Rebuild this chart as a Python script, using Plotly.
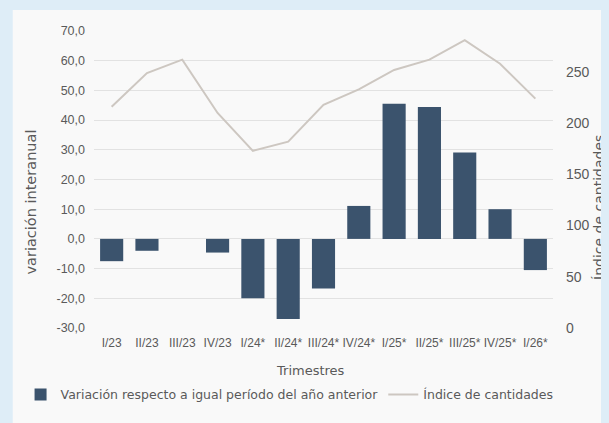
import plotly.graph_objects as go

trimestres = ["I/23", "II/23", "III/23", "IV/23", "I/24*", "II/24*", "III/24*",
              "IV/24*", "I/25*", "II/25*", "III/25*", "IV/25*", "I/26*"]
variacion = [-7.5, -4.0, 0.0, -4.6, -20.0, -27.0, -16.7,
             11.1, 45.5, 44.4, 29.1, 10.0, -10.5]
indice = [216, 249, 262, 210, 173, 182, 218,
          233, 252, 262, 281, 258, 224]

left_ticks = [-30, -20, -10, 0, 10, 20, 30, 40, 50, 60, 70]
left_text = ["-30,0", "-20,0", "-10,0", "0,0", "10,0", "20,0", "30,0",
             "40,0", "50,0", "60,0", "70,0"]
right_ticks = [0, 50, 100, 150, 200, 250]

bar_color = "#3b536d"
line_color = "#cdc7c1"
text_color = "#5a5a5a"
frame_color = "#deedf7"
geo_font = "DejaVu Sans, Noto Sans, sans-serif"
num_font = "Liberation Sans, Arial, sans-serif"

fig = go.Figure()

fig.add_trace(go.Bar(
    x=trimestres,
    y=variacion,
    name="Variación respecto a igual período del año anterior",
    marker=dict(color=bar_color, line=dict(width=0)),
    yaxis="y"
))

fig.add_trace(go.Scatter(
    x=trimestres,
    y=indice,
    name="Índice de cantidades",
    mode="lines",
    line=dict(color=line_color, width=2),
    yaxis="y2"
))

# the page puts the figure 8px in from the top-left corner
fig.update_layout(
    width=609,
    height=423,
    margin=dict(l=82, r=64, t=23, b=103),
    paper_bgcolor=frame_color,
    plot_bgcolor="#f9f9f9",
    bargap=0.345,
    showlegend=True,
    font=dict(family=num_font, color=text_color, size=12),
    xaxis=dict(
        type="category",
        automargin=False,
        showgrid=False,
        zeroline=False,
        ticks="",
        ticklabelstandoff=6,
        tickfont=dict(family=num_font, size=12, color=text_color),
    ),
    yaxis=dict(
        automargin=False,
        range=[-30, 70],
        tickvals=left_ticks,
        ticktext=left_text,
        showgrid=True,
        gridcolor="#e2e2e2",
        gridwidth=1,
        zeroline=False,
        ticks="",
        ticklabelstandoff=8,
        tickfont=dict(family=num_font, size=12.5, color=text_color),
    ),
    yaxis2=dict(
        automargin=False,
        overlaying="y",
        side="right",
        range=[0, 290],
        tickvals=right_ticks,
        showgrid=False,
        zeroline=False,
        ticks="",
        ticklabelstandoff=12,
        tickfont=dict(family=num_font, size=14, color=text_color),
    ),
    legend=dict(
        orientation="h",
        x=-0.16,
        y=-0.225,
        xanchor="left",
        yanchor="middle",
        bgcolor="rgba(0,0,0,0)",
        font=dict(family=geo_font, size=12.5, color=text_color),
        itemwidth=30,
    ),
    shapes=[dict(
        type="rect",
        xref="paper", yref="paper",
        x0=-0.177, x1=1.2, y0=-0.4, y1=1.071,
        fillcolor="#f9f9f9",
        line=dict(width=0),
        layer="below",
    )],
    annotations=[
        dict(text="variación interanual", xref="paper", yref="paper",
             x=-0.158, y=0.424, textangle=-90, showarrow=False,
             font=dict(family=geo_font, size=14.5, color=text_color)),
        dict(text="Índice de cantidades", xref="paper", yref="paper",
             x=1.078, y=0.407, textangle=-90, showarrow=False,
             xanchor="left",
             font=dict(family=geo_font, size=14, color=text_color)),
        dict(text="Trimestres", xref="paper", yref="paper",
             x=0.471, y=-0.143, yanchor="middle", showarrow=False,
             font=dict(family=geo_font, size=13, color=text_color)),
    ],
)

fig.write_html(
    "out.html",
    post_script="document.body.style.background='%s';" % frame_color
)
